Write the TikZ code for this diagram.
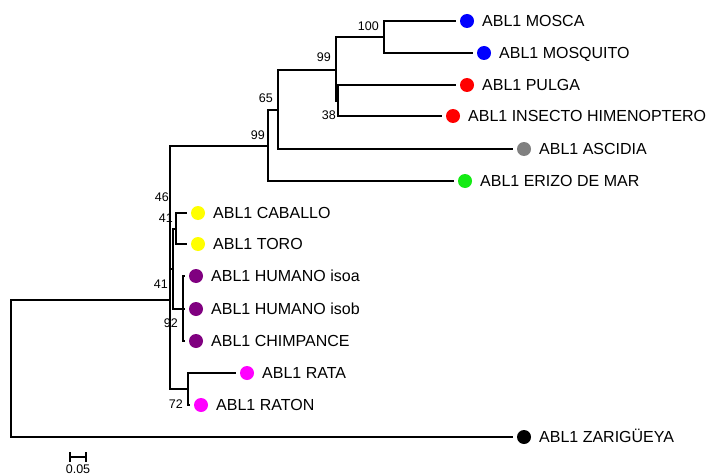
\documentclass[tikz,border=0pt]{standalone}
\usepackage{fontspec}
\setmainfont{Liberation Sans}
\definecolor{cblue}{RGB}{0,0,255}
\definecolor{cred}{RGB}{255,0,0}
\definecolor{cgray}{RGB}{128,128,128}
\definecolor{cgreen}{RGB}{20,235,20}
\definecolor{cyellow}{RGB}{255,255,0}
\definecolor{cpurple}{RGB}{128,0,128}
\definecolor{cmagenta}{RGB}{255,0,255}
\begin{document}
\begin{tikzpicture}[x=1pt,y=-1pt,
  br/.style={line width=1.2pt},
  dot/.style={circle, inner sep=0pt, minimum size=14pt, outer sep=4pt},
  lab/.style={font=\fontsize{16}{18}\selectfont, inner sep=0pt, anchor=base west},
  bs/.style={font=\fontsize{12.5}{14}\selectfont, inner sep=0pt, anchor=east},
]
\useasboundingbox[fill=white] (0,0) rectangle (706,476);

% leaf dots
\node[dot, fill=cblue]    (mosca)    at (467,21)  {};
\node[dot, fill=cblue]    (mosquito) at (484,53)  {};
\node[dot, fill=cred]     (pulga)    at (467,85)  {};
\node[dot, fill=cred]     (insecto)  at (453,116) {};
\node[dot, fill=cgray]    (ascidia)  at (524,149) {};
\node[dot, fill=cgreen]   (erizo)    at (465,181) {};
\node[dot, fill=cyellow]  (caballo)  at (198,213) {};
\node[dot, fill=cyellow]  (toro)     at (198,244) {};
\node[dot, fill=cpurple]  (huma)     at (196,276) {};
\node[dot, fill=cpurple]  (humb)     at (196,309) {};
\node[dot, fill=cpurple]  (chimp)    at (196,341) {};
\node[dot, fill=cmagenta] (rata)     at (247,373) {};
\node[dot, fill=cmagenta] (raton)    at (201,405) {};
\node[dot, fill=black]    (zar)      at (524,437) {};

% leaf names
\foreach \n/\t in {mosca/ABL1 MOSCA, mosquito/ABL1 MOSQUITO, pulga/ABL1 PULGA,
  insecto/ABL1 INSECTO HIMENOPTERO, ascidia/ABL1 ASCIDIA, erizo/ABL1 ERIZO DE MAR,
  caballo/ABL1 CABALLO, toro/ABL1 TORO, huma/ABL1 HUMANO isoa, humb/ABL1 HUMANO isob,
  chimp/ABL1 CHIMPANCE, rata/ABL1 RATA, raton/ABL1 RATON, zar/ABL1 ZARIGÜEYA}
  \node[lab] (t-\n) at ([xshift=15pt,yshift=-5.7pt]\n.center) {\t};

% internal nodes
\coordinate (R) at (11,369);
\coordinate (A) at (170,300);
\coordinate (B) at (268,146);
\coordinate (E) at (278,110);
\coordinate (F) at (336,70);
\coordinate (G) at (384,37);
\coordinate (H) at (338,101);
\coordinate (C) at (173,269);
\coordinate (I) at (176,229);
\coordinate (J) at (183,309);
\coordinate (D) at (188,389);

% branches
\draw[br] (R) |- (A);
\draw[br] (R) |- (zar.west);
\draw[br] (A) |- (B);
\draw[br] (A) |- (C);
\draw[br] (A) |- (D);
\draw[br] (B) |- (E);
\draw[br] (B) |- (erizo.west);
\draw[br] (E) |- (F);
\draw[br] (E) |- (ascidia.west);
\draw[br] (F) |- (G);
\draw[br] (F) |- (H);
\draw[br] (G) |- (mosca.west);
\draw[br] (G) |- (mosquito.west);
\draw[br] (H) |- (pulga.west);
\draw[br] (H) |- (insecto.west);
\draw[br] (C) |- (I);
\draw[br] (C) |- (J);
\draw[br] (I) |- (caballo.west);
\draw[br] (I) |- (toro.west);
\draw[br] (J) |- (huma.west);
\draw[br] (J) |- (humb.west);
\draw[br] (J) |- (chimp.west);
\draw[br] (D) |- (rata.west);
\draw[br] (D) |- (raton.west);

% bootstrap values
\node[bs] (b100)  at (379,26)  {100};
\node[bs] (b99a)  at (331,57)  {99};
\node[bs] (b65)   at (273,98)  {65};
\node[bs] (b99b)  at (265,135) {99};
\node[bs] (b38)   at (336,115) {38};
\node[bs] (b46)   at (169,197) {46};
\node[bs] (b41a)  at (173,218) {41};
\node[bs] (b41b)  at (168,284) {41};
\node[bs] (b92)   at (178,323) {92};
\node[bs] (b72)   at (183,404) {72};

% scale bar
\coordinate (s1) at (70,457);
\coordinate (s2) at (86,457);
\draw[br] (s1) -- (s2);
\draw[br] ([yshift=5pt]s1) -- ([yshift=-5pt]s1);
\draw[br] ([yshift=5pt]s2) -- ([yshift=-5pt]s2);
\node[font=\fontsize{12.5}{14}\selectfont, inner sep=0pt] (sl) at (78,469) {0.05};
\end{tikzpicture}
\end{document}
